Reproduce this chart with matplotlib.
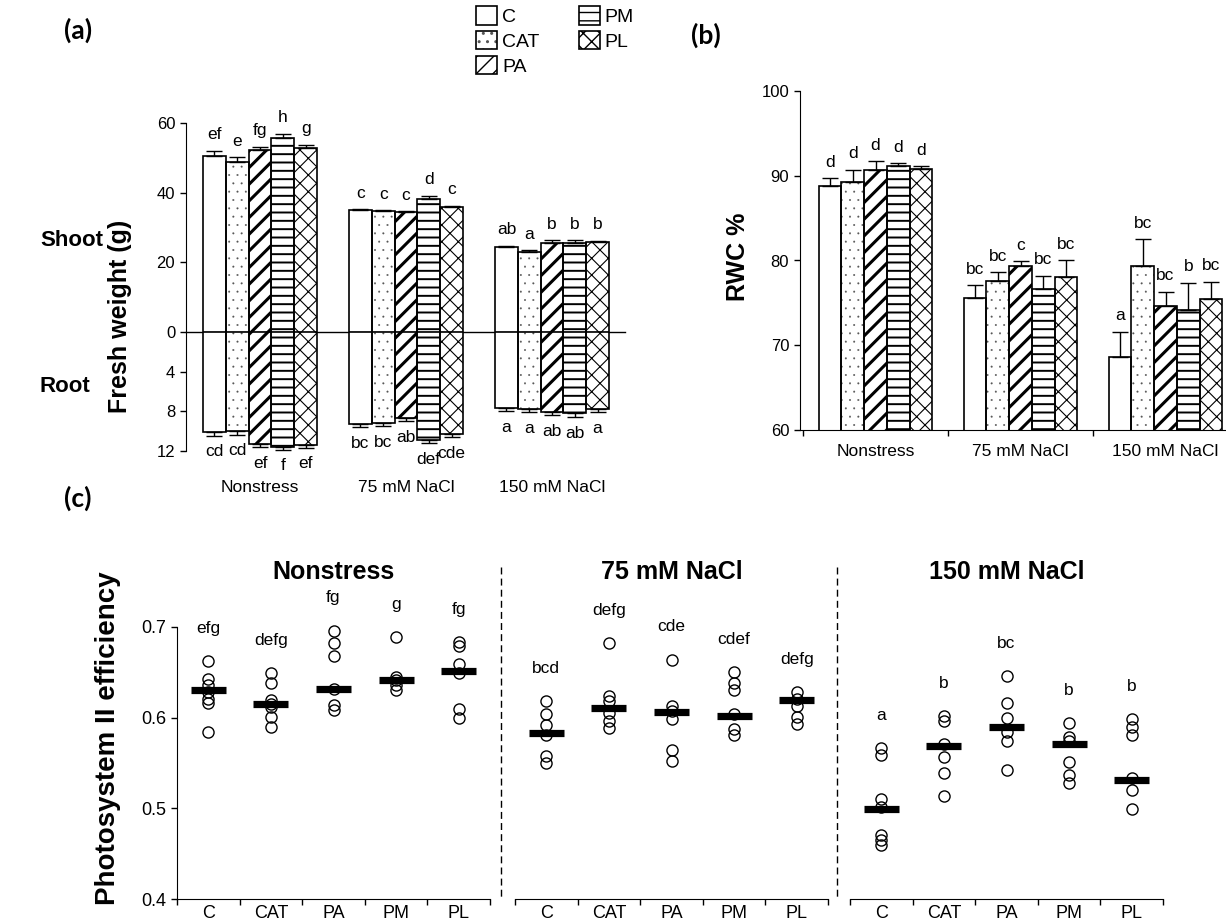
import matplotlib
matplotlib.use("Agg")
import matplotlib.pyplot as plt
from matplotlib.patches import Patch
from matplotlib.lines import Line2D
from matplotlib.legend_handler import HandlerTuple
import numpy as np

plt.rcParams['font.family'] = ['Liberation Sans', 'DejaVu Sans']
plt.rcParams['hatch.color'] = 'black'

W, H = 1226, 921

treatments = ['C', 'CAT', 'PA', 'PM', 'PL']
conditions = ['Nonstress', '75 mM NaCl', '150 mM NaCl']

# ---------------- (a) fresh weight (g); rows = conditions, cols = treatments
shoot_fw = [[50.6, 48.7, 52.2, 55.8, 52.9],
            [34.9, 34.6, 34.4, 38.2, 35.9],
            [24.4, 23.1, 25.5, 25.5, 25.8]]
shoot_se = [[1.5, 1.4, 1.0, 1.1, 0.9],
            [0.3, 0.3, 0.3, 0.9, 0.4],
            [0.3, 0.3, 0.9, 0.9, 0.4]]
shoot_letters = [['ef', 'e', 'fg', 'h', 'g'],
                 ['c', 'c', 'c', 'd', 'c'],
                 ['ab', 'a', 'b', 'b', 'b']]
root_fw = [[10.1, 10.0, 11.3, 11.6, 11.4],
           [9.3, 9.2, 8.7, 10.9, 10.3],
           [7.7, 7.8, 8.1, 8.2, 7.8]]
root_se = [[0.35, 0.35, 0.3, 0.3, 0.3],
           [0.3, 0.3, 0.3, 0.3, 0.3],
           [0.3, 0.3, 0.3, 0.4, 0.3]]
root_letters = [['cd', 'cd', 'ef', 'f', 'ef'],
                ['bc', 'bc', 'ab', 'def', 'cde'],
                ['a', 'a', 'ab', 'ab', 'a']]

# ---------------- (b) RWC %
rwc = [[88.8, 89.3, 90.7, 91.2, 90.8],
       [75.6, 77.6, 79.4, 76.6, 78.0],
       [68.6, 79.3, 74.6, 74.2, 75.4]]
rwc_se = [[0.9, 1.4, 1.0, 0.3, 0.3],
          [1.5, 1.0, 0.5, 1.6, 2.0],
          [3.0, 3.2, 1.7, 3.2, 2.1]]
rwc_letters = [['d', 'd', 'd', 'd', 'd'],
               ['bc', 'bc', 'c', 'bc', 'bc'],
               ['a', 'bc', 'bc', 'b', 'bc']]

# ---------------- (c) Photosystem II efficiency (individual plants + mean)
psii_nonstress = [[0.662, 0.643, 0.636, 0.628, 0.621, 0.616, 0.584],
                  [0.649, 0.638, 0.620, 0.615, 0.612, 0.601, 0.590],
                  [0.696, 0.682, 0.668, 0.632, 0.614, 0.608],
                  [0.689, 0.645, 0.642, 0.636, 0.630],
                  [0.683, 0.679, 0.659, 0.649, 0.610, 0.600]]
psii_mean_nonstress = [0.630, 0.615, 0.632, 0.641, 0.652]
psii_letters_nonstress = ['efg', 'defg', 'fg', 'g', 'fg']

psii_75 = [[0.618, 0.604, 0.592, 0.581, 0.558, 0.550],
           [0.682, 0.624, 0.618, 0.605, 0.596, 0.589],
           [0.664, 0.613, 0.607, 0.599, 0.564, 0.552],
           [0.650, 0.638, 0.631, 0.604, 0.587, 0.581],
           [0.628, 0.621, 0.613, 0.601, 0.593]]
psii_mean_75 = [0.583, 0.611, 0.606, 0.602, 0.620]
psii_letters_75 = ['bcd', 'defg', 'cde', 'cdef', 'defg']

psii_150 = [[0.566, 0.559, 0.510, 0.502, 0.471, 0.465, 0.460],
            [0.602, 0.596, 0.571, 0.557, 0.539, 0.514],
            [0.646, 0.616, 0.600, 0.584, 0.574, 0.542],
            [0.594, 0.579, 0.574, 0.551, 0.537, 0.528],
            [0.598, 0.590, 0.581, 0.533, 0.520, 0.499]]
psii_mean_150 = [0.499, 0.569, 0.590, 0.571, 0.531]
psii_letters_150 = ['a', 'b', 'bc', 'b', 'b']

# ---------------- styles
hatches = ['', '..', '//', '--', 'xx']
hatch_lw = [1.0, 0.2, 2.2, 1.4, 0.8]
hatch_colors = ['black', '#555555', 'black', 'black', 'black']
TICK_FS = 12
LET_FS = 12.5

fig = plt.figure(figsize=(W / 100, H / 100), dpi=100)


def fx(p):
    return p / W


def fy(p):
    return 1 - p / H


def set_hlw(patches, lw):
    for p in patches:
        try:
            p.set_hatch_linewidth(lw)
        except AttributeError:
            pass


def draw_bars(ax, values, errs, letters, width, down=False):
    for g, vals in enumerate(values):
        for i, v in enumerate(vals):
            x = g + (i - 2) * width
            with plt.rc_context({'hatch.linewidth': hatch_lw[i]}):
                fill = ax.bar(x, v, width=width, color='white', edgecolor=hatch_colors[i],
                              linewidth=0, hatch=hatches[i], zorder=1.4)
            set_hlw(fill, hatch_lw[i])
            ax.bar(x, v, width=width, facecolor='none', edgecolor='black',
                   linewidth=1.2, zorder=1.5)
            e = errs[g][i]
            ax.errorbar([x], [v], yerr=[[0], [e]], fmt='none', ecolor='black',
                        elinewidth=1, capsize=5.5, capthick=1, zorder=1.6)
            off = -11.5 if down else 11.5
            ax.annotate(letters[g][i], (x, v + e), xytext=(0, off),
                        textcoords='offset points', ha='center', va='center',
                        fontsize=LET_FS)


# ================= panel (a)
wa = 0.156
ax_s = fig.add_axes([fx(186), fy(332), (625 - 186) / W, (332 - 123) / H])
ax_r = fig.add_axes([fx(186), fy(451), (625 - 186) / W, (451 - 332) / H])
for ax in (ax_s, ax_r):
    ax.set_xlim(-0.507, 2.5)
    ax.set_facecolor('none')
    ax.spines['top'].set_visible(False)
    ax.spines['right'].set_visible(False)
    ax.tick_params(axis='y', length=4.3, width=1, labelsize=TICK_FS, direction='out')
    ax.set_xticks([])
ax_s.set_ylim(0, 60)
ax_s.set_yticks([0, 20, 40, 60])
ax_s.spines['bottom'].set_linewidth(1)
ax_r.set_ylim(12, 0)
ax_r.set_yticks([4, 8, 12])
ax_r.spines['bottom'].set_visible(False)
draw_bars(ax_s, shoot_fw, shoot_se, shoot_letters, wa)
draw_bars(ax_r, root_fw, root_se, root_letters, wa, down=True)
for g, c in enumerate(conditions):
    ax_r.annotate(c, (g, 12), xytext=(0, -26), textcoords='offset points',
                  ha='center', va='center', fontsize=12.5)

fig.text(fx(120), fy(316), 'Fresh weight (g)', rotation=90, ha='center', va='center',
         fontsize=18, fontweight='bold')
fig.text(fx(72), fy(240), 'Shoot', ha='center', va='center', fontsize=16, fontweight='bold')
fig.text(fx(65), fy(387), 'Root', ha='center', va='center', fontsize=16, fontweight='bold')

# legend (hatched fill + black outline overlaid)
handles = []
for i, t in enumerate(treatments):
    with plt.rc_context({'hatch.linewidth': hatch_lw[i]}):
        hp = Patch(facecolor='white', edgecolor=hatch_colors[i], linewidth=0, hatch=hatches[i])
    set_hlw([hp], hatch_lw[i])
    ep = Patch(facecolor='none', edgecolor='black', linewidth=1.2)
    handles.append((hp, ep))
fig.legend(handles=handles, labels=treatments, loc='upper left',
           bbox_to_anchor=(fx(476), fy(6)), ncol=2,
           handler_map={tuple: HandlerTuple(ndivide=1, pad=0)},
           frameon=False, fontsize=14, handlelength=1.1, handleheight=1.1,
           handletextpad=0.25, columnspacing=2.0, labelspacing=0.25,
           borderpad=0, borderaxespad=0)

# ================= panel (b)
wb = 0.157
ax_b = fig.add_axes([fx(800), fy(430), (1225 - 800) / W, (430 - 91) / H])
ax_b.set_xlim(-0.521, 2.41)
ax_b.set_ylim(60, 100)
ax_b.spines['top'].set_visible(False)
ax_b.spines['right'].set_visible(False)
draw_bars(ax_b, rwc, rwc_se, rwc_letters, wb)
ax_b.set_yticks([60, 70, 80, 90, 100])
ax_b.tick_params(axis='y', length=4.3, width=1, labelsize=TICK_FS)
ax_b.set_xticks(range(3))
ax_b.set_xticklabels(conditions, fontsize=12.5)
ax_b.set_xticks([-0.5, 0.5, 1.5], minor=True)
ax_b.tick_params(axis='x', which='major', length=0, pad=10)
ax_b.tick_params(axis='x', which='minor', length=4.3, width=1)
fig.text(fx(738), fy(257), 'RWC %', rotation=90, ha='center', va='center',
         fontsize=18, fontweight='bold')

# ================= panel (c)
lefts = [177, 515, 850]
panels = [(psii_nonstress, psii_mean_nonstress, psii_letters_nonstress),
          (psii_75, psii_mean_75, psii_letters_75),
          (psii_150, psii_mean_150, psii_letters_150)]
for k, (vals, means, letters) in enumerate(panels):
    ax = fig.add_axes([fx(lefts[k]), fy(899), 313 / W, (899 - 581.65) / H])
    ax.set_xlim(-0.5, 4.5)
    ax.set_ylim(0.4, 0.75)
    for i, pts in enumerate(vals):
        ax.plot([i] * len(pts), pts, 'o', ms=8, mfc='none', mec='black', mew=1, zorder=2)
        ax.hlines(means[i], i - 0.28, i + 0.28, color='black', lw=5.2, zorder=3)
        ax.annotate(letters[i], (i, max(pts)), xytext=(0, 23.5), textcoords='offset points',
                    ha='center', va='center', fontsize=LET_FS)
    ax.text(2, 0.7606, conditions[k], ha='center', va='center', fontsize=18,
            fontweight='bold')
    ax.spines['top'].set_visible(False)
    ax.spines['right'].set_visible(False)
    ax.set_xticks(range(5))
    ax.set_xticklabels(treatments, fontsize=13)
    ax.set_xticks(np.arange(-0.5, 5.0, 1.0), minor=True)
    ax.tick_params(axis='x', which='major', length=0, pad=4)
    ax.tick_params(axis='x', which='minor', length=4, width=1)
    if k == 0:
        ax.spines['left'].set_bounds(0.4, 0.7)
        ax.set_yticks([0.4, 0.5, 0.6, 0.7])
        ax.set_yticklabels(['0.4', '0.5', '0.6', '0.7'])
        ax.tick_params(axis='y', length=4, width=1, labelsize=13)
    else:
        ax.spines['left'].set_visible(False)
        ax.set_yticks([])

for xd in (501, 837):
    fig.add_artist(Line2D([fx(xd), fx(xd)], [fy(567), fy(899)], transform=fig.transFigure,
                          color='black', lw=1, ls=(0, (5, 3))))

fig.text(fx(108), fy(738), 'Photosystem II efficiency', rotation=90, ha='center',
         va='center', fontsize=20, fontweight='bold')

# panel letters
for lbl, (px, py) in {'(a)': (78, 30), '(b)': (706, 35), '(c)': (78, 498)}.items():
    fig.text(fx(px), fy(py), lbl, ha='center', va='center', fontsize=19,
             fontweight='bold', family=['Lato', 'DejaVu Sans'])

fig.savefig('out.png', dpi=100)
